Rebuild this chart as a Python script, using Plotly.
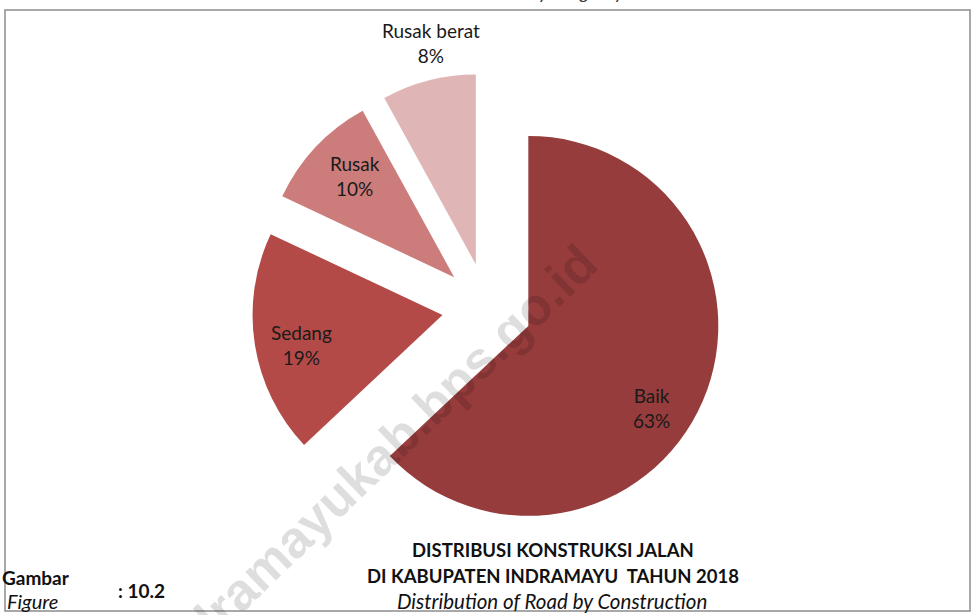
import plotly.graph_objects as go

# ---- data ----
categories = ["Baik", "Sedang", "Rusak", "Rusak berat"]
shares = [63, 19, 10, 8]
slice_colors = ["#963C3C", "#B44A48", "#CB7C7B", "#DFB5B5"]

title_lines = ["DISTRIBUSI KONSTRUKSI JALAN", "DI KABUPATEN INDRAMAYU  TAHUN 2018"]
subtitle = "Distribution of Road by Construction"
figure_label = ["Gambar", "Figure", ": 10.2"]
watermark = "indramayukab.bps.go.id"

W, H = 974, 615
FONT = "Lato, Calibri, Carlito, 'Open Sans', sans-serif"


def px(x):
    return x / W


def py(y):
    return 1 - y / H


fig = go.Figure()
fig.add_trace(go.Pie(
    labels=categories,
    values=shares,
    sort=False,
    direction="clockwise",
    rotation=0,
    pull=0.237,
    automargin=False,
    marker=dict(colors=slice_colors, line=dict(width=0)),
    textinfo="none",
    showlegend=False,
    hoverinfo="label+percent",
    domain=dict(x=[px(252), px(722)], y=[py(543), py(73)]),
))

# slice labels (text built from the data)
label_anchor = [(651, 408), (301, 345), (355, 176), (431, 43)]
total = sum(shares)
annotations = []
for name, val, (lx, ly) in zip(categories, shares, label_anchor):
    annotations.append(dict(
        text=f"{name}<br>{round(100 * val / total)}%", x=px(lx), y=py(ly),
        xref="paper", yref="paper", xanchor="center", yanchor="middle",
        showarrow=False, align="center",
        font=dict(family=FONT, size=19, color="#1a1a1a")))

# captions
annotations += [
    dict(text=f"<b>{title_lines[0]}</b>", x=px(553), y=py(550), xanchor="center", size=18.5),
    dict(text=f"<b>{title_lines[1]}</b>", x=px(553), y=py(576), xanchor="center", size=18.5),
    dict(text=f"<i>{subtitle}</i>", x=px(552), y=py(601), xanchor="center", size=20.5),
    dict(text=f"<b>{figure_label[0]}</b>", x=px(0), y=py(577), xanchor="left", size=19),
    dict(text=f"<i>{figure_label[1]}</i>", x=px(5), y=py(601), xanchor="left", size=20),
    dict(text=f"<b>{figure_label[2]}</b>", x=px(116), y=py(590), xanchor="left", size=19),
]
for a in annotations[len(categories):]:
    s = a.pop("size")
    a.update(xref="paper", yref="paper", yanchor="middle", showarrow=False,
             font=dict(family=FONT, size=s, color="#111111"))

# partially cut heading at the very top
annotations.append(dict(text="<i>Indramayu Regency 2018</i>", x=px(573), y=py(-8),
                        xref="paper", yref="paper", xanchor="center", yanchor="middle",
                        showarrow=False, font=dict(family=FONT, size=18, color="#333333")))

# watermark
annotations.append(dict(text=f"<b>{watermark}</b>", x=px(373), y=py(462),
                        xref="paper", yref="paper", xanchor="center", yanchor="middle",
                        textangle=-44, showarrow=False,
                        font=dict(family="'Liberation Sans', Arial, sans-serif", size=52,
                                  color="rgba(0,0,0,0.13)")))

fig.update_layout(
    width=W, height=H,
    margin=dict(l=0, r=0, t=0, b=0, pad=0, autoexpand=False),
    paper_bgcolor="white",
    plot_bgcolor="white",
    annotations=annotations,
    shapes=[dict(type="rect", xref="paper", yref="paper",
                 x0=px(5), x1=px(970), y0=py(611), y1=py(10),
                 line=dict(color="#8c8c8c", width=1.5), fillcolor="rgba(0,0,0,0)",
                 layer="below")],
)

fig.write_html("out.html",
               config={"displayModeBar": False},
               post_script="document.body.style.margin='0';document.body.style.overflow='hidden';")
